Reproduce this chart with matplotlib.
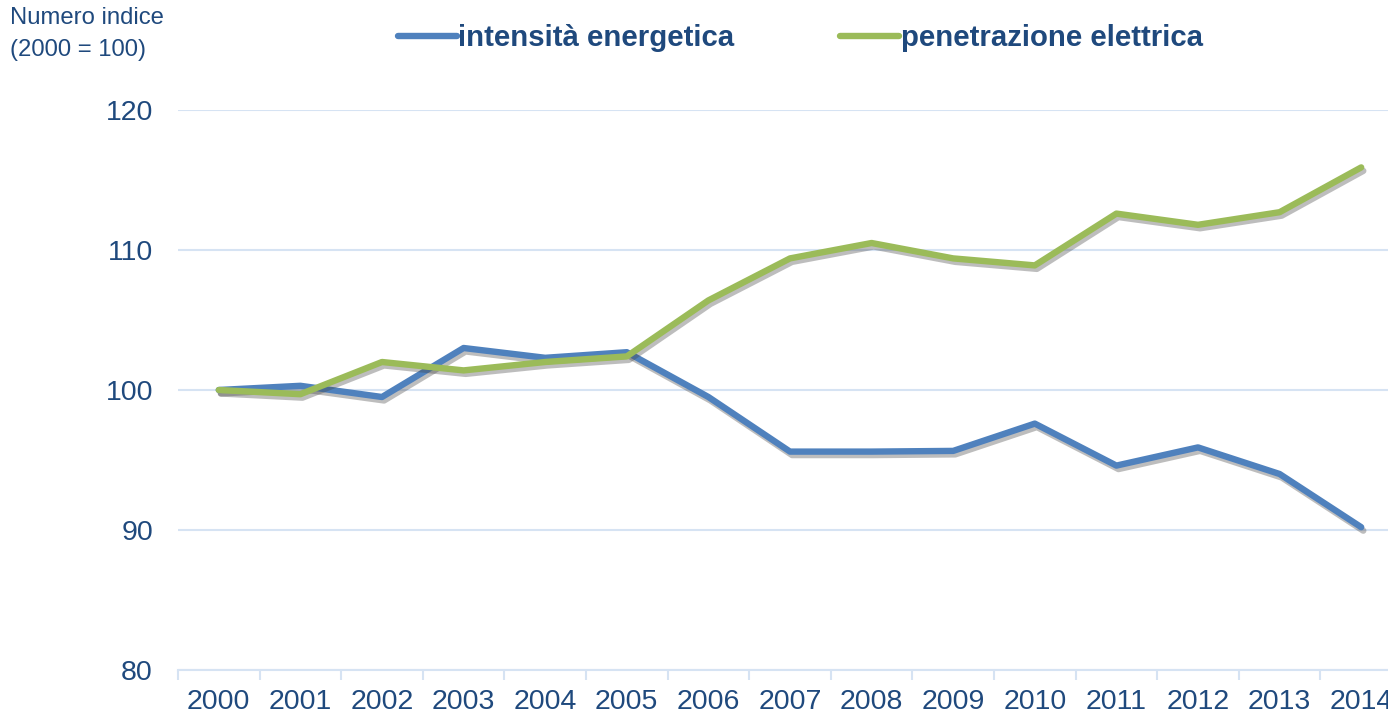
import numpy as np
import matplotlib.pyplot as plt
import matplotlib.patheffects as pe

plt.rcParams['font.family'] = ['Liberation Sans', 'DejaVu Sans']

years = ['2000', '2001', '2002', '2003', '2004', '2005', '2006', '2007',
         '2008', '2009', '2010', '2011', '2012', '2013', '2014']
intensita = [100.0, 100.3, 99.5, 103.0, 102.3, 102.7, 99.5, 95.6,
             95.6, 95.65, 97.6, 94.6, 95.9, 94.0, 90.2]
penetrazione = [100.0, 99.7, 102.0, 101.4, 102.0, 102.4, 106.4, 109.4,
                110.5, 109.4, 108.9, 112.6, 111.8, 112.7, 115.9]
y_ticks = [80, 90, 100, 110, 120]

text_col = '#1F497D'
grid_col = '#D6E3F3'
blue = '#4F81BD'
green = '#9BBB59'

fig = plt.figure(figsize=(13.88, 7.17), dpi=100, facecolor='white')
ax = fig.add_axes([178 / 1388, 1 - 670 / 717, 1224 / 1388, 560 / 717])

x = np.arange(len(years))
shadow = [pe.SimpleLineShadow(offset=(1.5, -2.5), shadow_color='#444444', alpha=0.35),
          pe.Normal()]
ax.plot(x, intensita, color=blue, lw=4.6, solid_capstyle='round',
        solid_joinstyle='round', path_effects=shadow, label='intensità energetica', zorder=3)
ax.plot(x, penetrazione, color=green, lw=4.6, solid_capstyle='round',
        solid_joinstyle='round', path_effects=shadow, label='penetrazione elettrica', zorder=4)

ax.set_xlim(-0.5, len(years) - 0.5)
ax.set_ylim(80, 120)
ax.set_yticks(y_ticks)
ax.set_xticks(x)
ax.set_xticklabels(years)
ax.set_xticks(np.arange(-0.5, len(years), 1), minor=True)

for s in ['top', 'right', 'left']:
    ax.spines[s].set_visible(False)
ax.spines['bottom'].set_color(grid_col)
ax.spines['bottom'].set_linewidth(1.5)

ax.grid(axis='y', color=grid_col, lw=1.5, zorder=0)
ax.set_axisbelow(True)
ax.tick_params(axis='y', length=0, pad=18, labelsize=20.5, labelcolor=text_col)
ax.tick_params(axis='x', which='major', length=0, pad=13.5, labelsize=20.5, labelcolor=text_col)
ax.tick_params(axis='x', which='minor', length=7, width=1.5, color=grid_col)

fig.text(10 / 1388, 1 - 18 / 717, 'Numero indice', fontsize=17.2, color=text_col,
         ha='left', va='center')
fig.text(10 / 1388, 1 - 50 / 717, '(2000 = 100)', fontsize=17.2, color=text_col,
         ha='left', va='center')

leg = fig.legend(loc='center left', bbox_to_anchor=(398 / 1388, 1 - 38 / 717), ncol=2,
                 frameon=False, handlelength=2.0, handletextpad=0.05, columnspacing=3.6,
                 borderpad=0, borderaxespad=0, prop={'size': 21.2, 'weight': 'bold'})
for t in leg.get_texts():
    t.set_color(text_col)
for h in leg.legend_handles:
    h.set_linewidth(4.6)
    h.set_path_effects([])

fig.savefig('out.png', dpi=100, facecolor='white')
